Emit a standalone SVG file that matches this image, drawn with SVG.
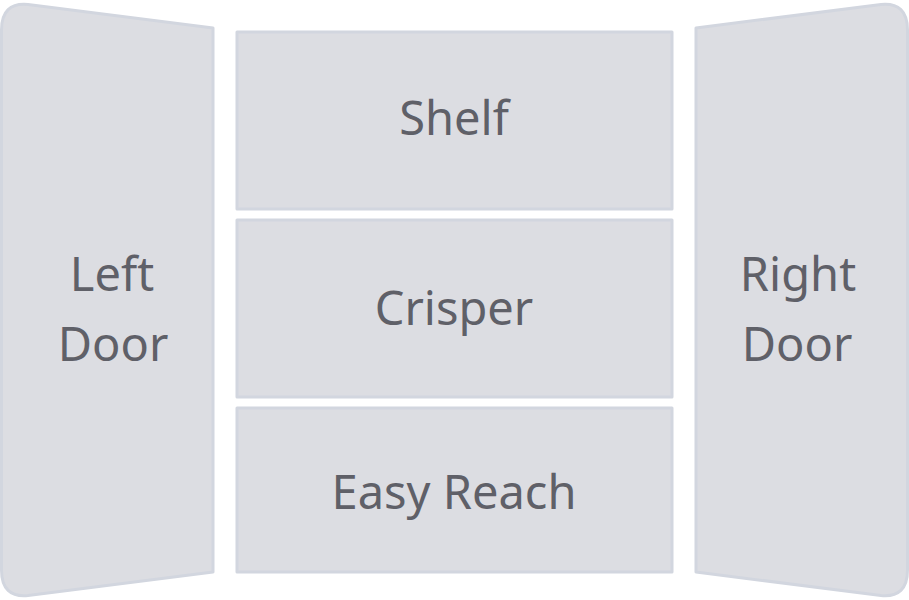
<svg xmlns="http://www.w3.org/2000/svg" width="909" height="600" viewBox="0 0 909 600">
<style>
.part{fill:#dcdde2;stroke:#d2d6df;stroke-width:3;stroke-linejoin:round}
.lbl{font-family:"Noto Sans","Open Sans",sans-serif;font-size:47px;fill:#5f6068;text-anchor:middle}
</style>
<rect width="909" height="600" fill="#ffffff"/>
<g id="left-door">
<path class="part" d="M28,4.5 L213,28 L213,572 L28,595.5 Q1.5,598 1.5,570 L1.5,30 Q1.5,2 28,4.5 Z"/>
<text class="lbl" x="112" y="291">Left</text>
<text class="lbl" x="113" y="361">Door</text>
</g>
<g id="shelf">
<rect class="part" x="237" y="32" width="435" height="177"/>
<text class="lbl" x="454" y="135">Shelf</text>
</g>
<g id="crisper">
<rect class="part" x="237" y="220" width="435" height="177"/>
<text class="lbl" x="454" y="325">Crisper</text>
</g>
<g id="easy-reach">
<rect class="part" x="237" y="408" width="435" height="164"/>
<text class="lbl" x="454" y="509">Easy Reach</text>
</g>
<g id="right-door">
<path class="part" d="M696,28 L881,4.5 Q907.5,2 907.5,30 L907.5,570 Q907.5,598 881,595.5 L696,572 Z"/>
<text class="lbl" x="798" y="291">Right</text>
<text class="lbl" x="797" y="361">Door</text>
</g>
<g id="connectors"></g>
</svg>
